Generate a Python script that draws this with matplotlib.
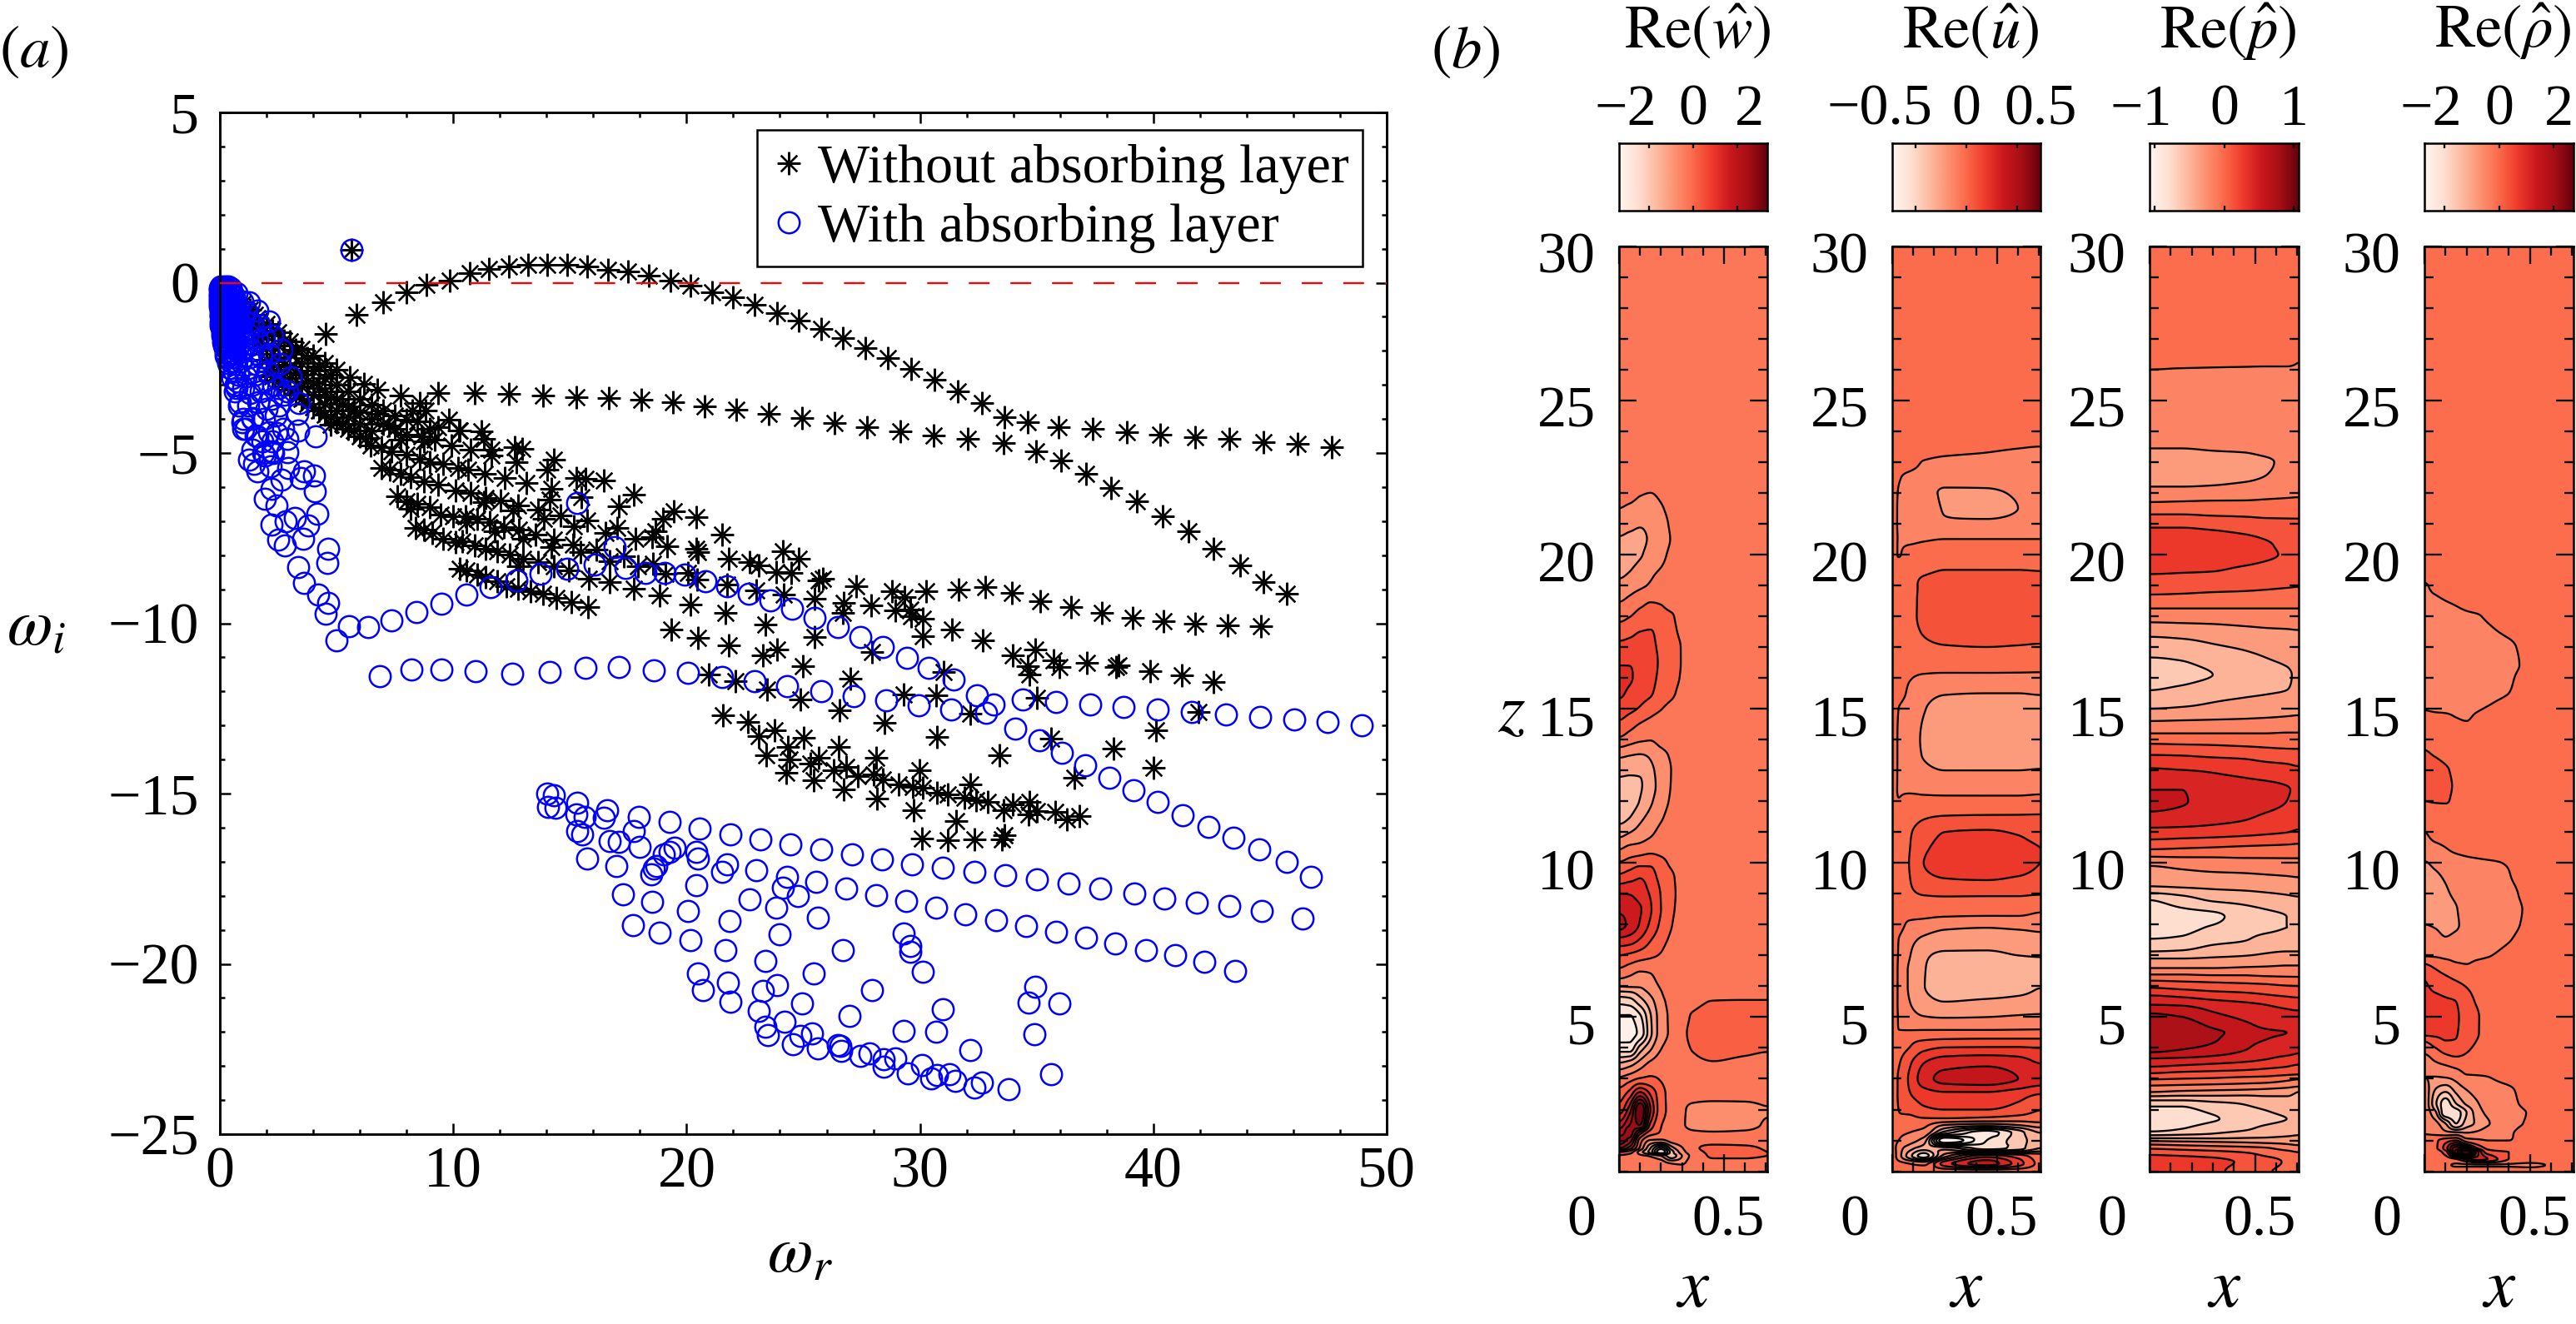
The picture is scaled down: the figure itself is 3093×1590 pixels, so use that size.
import numpy as np
import matplotlib
matplotlib.use('Agg')
import matplotlib.pyplot as plt
from matplotlib.transforms import ScaledTranslation
from matplotlib.ticker import MultipleLocator

plt.rcParams['font.family'] = ['Liberation Serif']
plt.rcParams['mathtext.fontset'] = 'stix'
FS = 16.8
W, H = 3093, 1590
DPI = 300

# ---------- panel (a): eigenvalues, without absorbing layer ----------
star_arc = [(4.54,-1.51),(5.85,-.94),(6.98,-.58),(7.98,-.29),(8.84,-.05),(9.84,.07),(10.7,.27),(11.53,.40),(12.37,.47),(13.21,.52),(14.04,.52),(14.9,.52),(15.75,.47),(16.63,.39),(17.5,.32),(18.38,.2),(19.29,.07),(20.18,-.09),(21.09,-.28),(22,-.44),(22.93,-.66),(23.87,-.89),(24.8,-1.11),(25.75,-1.36),(26.7,-1.63),(27.65,-1.93),(28.61,-2.21),(29.62,-2.53),(30.62,-2.85),(31.63,-3.19),(32.67,-3.54),(33.61,-3.96),(34.61,-4.10),(35.93,-4.23),(37.4,-4.3),(38.87,-4.38),(40.31,-4.45),(41.78,-4.53),(43.24,-4.59),(44.72,-4.67),(46.17,-4.74),(47.64,-4.82)]
star_flat = [(9.36,-3.24),(10.92,-3.25),(12.39,-3.27),(13.83,-3.32),(15.26,-3.35),(16.65,-3.39),(18.05,-3.44),(19.42,-3.52),(20.78,-3.62),(22.13,-3.74),(23.53,-3.86),(24.94,-3.98),(26.33,-4.13),(27.72,-4.25),(29.16,-4.37),(30.6,-4.49),(32.06,-4.59),(33.57,-4.70),(34.96,-4.94),(36.03,-5.23),(37.12,-5.62),(38.19,-6.03),(39.3,-6.43),(40.39,-6.87),(41.49,-7.31),(42.58,-7.82),(43.71,-8.30),(44.71,-8.79),(45.71,-9.14)]
star_right = [(39.12,-9.83),(40.45,-9.94),(41.8,-10.0),(43.2,-10.05),(44.62,-10.08),(38.51,-11.24),(39.87,-11.4),(41.23,-11.54),(42.58,-11.73),(41.93,-12.6),(40.11,-13.14),(40.02,-14.23)]
star_lower = [(19.11,-8.55),(20.07,-8.53),(20.45,-8.71),(21.75,-8.86),(22.97,-9.04),(23.85,-8.49),(24.49,-8.51),(24.17,-9.16),(25.48,-9.29),(25.67,-8.75),(25.84,-8.69),(27.27,-8.91),(26.72,-9.39),(26.69,-9.69),(27.9,-9.47),(28.79,-9.06),(29.33,-9.22),(28.96,-9.61),(29.59,-9.59),(29.62,-9.78),(30.13,-9.87),(30.28,-9.06),(31.64,-9.02),(32.81,-8.94),(33.93,-9.10),(35.14,-9.34),(36.48,-9.53),(37.79,-9.69),
(30.13,-10.37),(31.38,-10.19),(32.68,-10.51),(33.99,-10.93),(34.93,-10.77),(34.62,-11.26),(34.68,-11.5),(35.74,-11.08),(35.97,-11.28),(37.14,-11.16),(38.4,-11.28),
(18.86,-9.18),(20.17,-9.44),(21.67,-9.69),(19.34,-10.19),(20.49,-10.42),(21.79,-10.64),(23.38,-10.03),(25.48,-10.4),(27.94,-10.85),(31.0,-11.42),(23.27,-10.93),(23.89,-10.76),(24.97,-11.26),(27.0,-11.63),(20.96,-11.5),(22.1,-11.7),(23.44,-11.95),(24.87,-12.24),(26.54,-12.56),(28.48,-12.91),(29.31,-12.09),(30.71,-12.12),(32.17,-12.66),(35.0,-12.2),
(21.57,-12.69),(22.61,-12.89),(23.1,-13.31),(23.76,-13.13),(25.03,-13.36),(24.34,-13.63),(23.42,-13.87),(24.42,-13.99),(24.27,-14.4),(25.67,-13.95),(25.29,-14.13),(26.5,-13.62),(25.44,-14.62),(26.31,-14.32),(26.84,-14.21),(27.33,-14.48),(28.13,-13.95),(28.03,-14.44),(28.41,-14.59),(26.72,-14.87),(28.16,-15.15),(29.09,-14.72),(29.69,-14.81),(29.98,-14.32),(30.13,-14.84),(30.74,-14.97),(31.2,-15.03),(32.15,-14.72),(31.89,-15.12),(32.4,-15.19),(32.91,-15.24),(33.6,-15.48),(33.98,-15.32),(34.68,-15.25),(34.66,-15.6),(35.0,-15.52),(35.78,-15.54),(36.29,-15.77),(36.82,-15.66),(29.73,-15.48),(31.56,-15.81),(30.1,-16.33),(31.18,-16.38),(32.33,-16.35),(33.51,-16.34),(33.61,-16.22),(33.42,-13.88),(30.74,-13.34),(35.61,-13.39),(36.61,-14.54),(38.29,-13.68)]
star_mid = [(10.26,-4.33),(11.21,-4.36),(11.33,-4.58),(10.74,-4.9),(11.63,-4.9),(11.63,-5.07),(12.62,-4.82),(12.94,-4.88),(12.71,-5.27),(14.31,-5.19),(14.03,-5.49),(10.62,-5.49),(11.36,-5.6),(12.19,-5.74),(13.12,-5.88),(14.22,-6.06),(15.26,-5.74),(15.65,-5.77),(16.45,-5.8),(17.73,-6.23),(17.08,-6.56),(15.49,-6.29),(14.13,-6.37),(10.76,-6.17),(11.39,-6.33),(12.04,-6.39),(11.30,-6.45),(12.79,-6.53),(12.58,-6.69),(13.65,-6.67),(13.89,-6.92),(14.6,-6.83),(15.73,-6.98),(15.17,-7.14),(10.54,-6.86),(11.04,-6.94),(10.56,-7.02),(11.57,-7.02),(12.17,-7.17),(11.78,-7.31),(12.82,-7.25),(13.0,-7.51),(13.51,-7.39),(14.31,-7.55),(14.22,-7.76),(15.14,-7.69),(16.51,-7.35),(17.01,-7.2),(17.82,-7.53),(18.53,-7.47),(18.65,-7.31),(19.0,-6.92),(19.45,-6.71),(20.4,-6.88),(21.52,-7.39),(19.16,-7.74),(20.4,-7.82),(20.49,-7.92),(21.8,-8.1),(22.71,-8.2),(23.1,-8.3),(24.14,-7.88),(24.81,-8.1),
(10.38,-7.59),(10.92,-7.71),(11.4,-7.81),(11.87,-7.89),(12.43,-7.98),(13.0,-8.11),(13.63,-8.2),(14.31,-8.32),(15.44,-7.92),(16.13,-7.84),(16.69,-8.18),(17.31,-8.04),(17.93,-8.32),(18.56,-8.24),
(10.28,-8.39),(10.56,-8.45),(11.04,-8.57),(11.4,-8.65),(11.87,-8.77),(12.29,-8.9),(12.76,-8.98),(13.3,-9.06),(13.83,-9.14),(14.43,-9.26),(15.06,-9.38),(15.79,-9.53),(12.76,-8.33),(14.96,-8.45),(15.82,-8.68),(16.72,-8.8),(17.72,-8.99)]
star_fan = [(1,-.6),(1.3,-.8),(1.6,-1.05),(1.1,-1),(1.4,-1.25),(1.7,-1.5),(1.2,-1.35),(1.5,-1.65),(1.8,-1.9),
(1.5,-.95),(2,-1.2),(2.5,-1.45),(3,-1.72),(3.5,-1.95),(4,-2.15),(4.5,-2.35),(5,-2.55),(5.55,-2.77),(6.18,-2.98),(6.76,-3.15),(7.73,-3.31),(8.55,-3.53),(8.82,-3.75),(9.82,-4.02),(10.28,-4.35),
(2,-1.55),(2.5,-1.85),(3,-2.1),(3.5,-2.35),(4,-2.58),(4.5,-2.8),(5,-3.0),(5.5,-3.2),(6,-3.4),(6.5,-3.58),(7,-3.75),(7.5,-3.9),(8,-4.02),(8.46,-4.08),(9,-4.3),(9.36,-4.24),
(2,-1.9),(2.5,-2.2),(3,-2.45),(3.5,-2.7),(4,-2.95),(4.5,-3.2),(5,-3.42),(5.5,-3.62),(6,-3.8),(6.5,-4.0),(7,-4.15),(7.5,-4.3),(8,-4.45),(8.64,-4.51),(9.19,-4.62),(9.91,-4.79),
(2,-2.25),(2.5,-2.55),(3,-2.8),(3.5,-3.05),(4,-3.3),(4.5,-3.55),(5,-3.75),(5.5,-3.95),(6,-4.15),(6.5,-4.35),
(2,-2.6),(2.5,-2.9),(3,-3.15),(3.5,-3.4),(4,-3.65),(4.73,-4.17),(4.5,-3.88),(5,-4.1),(5.5,-4.3),(6,-4.5),
(6.45,-4.79),(6.91,-4.84),(7.36,-4.95),(8.0,-5.06),(8.55,-5.17),(9.0,-5.26),(9.55,-5.33),(10.19,-5.44),
(6.91,-5.44),(7.28,-5.5),(7.73,-5.6),(8.18,-5.71),(8.73,-5.82),(9.36,-5.93),(10.1,-6.1),
(7.6,-6.26),(8.0,-6.42),(8.18,-6.64),(8.45,-6.48),(9.0,-6.59),(9.46,-6.8),(10.0,-6.86),
(8.37,-7.19),(8.73,-7.24),(9.09,-7.35),(9.55,-7.52),(10.1,-7.62),
(2.25,-1.4),(2.75,-1.7),(3.25,-1.98),(3.75,-2.22),(4.25,-2.45),(4.75,-2.7),(2.25,-2.1),(2.75,-2.4),(3.25,-2.65),(3.75,-2.9),(4.25,-3.1),(4.75,-3.35),(5.25,-3.55),(5.75,-3.75),(2.25,-2.75),(2.75,-3.05),(3.25,-3.3),(3.75,-3.55),(4.25,-3.75),(4.75,-3.95),(5.25,-4.15),(5.75,-4.35),(6.25,-4.55),(7.25,-4.2),(7.75,-4.6),(6.75,-3.85),(8.25,-3.75),(8.75,-4.65)]
unstable_mode = [(5.64,.955)]

# ---------- panel (a): eigenvalues, with absorbing layer ----------
ring_arc = [(5.0,-10.49),(5.54,-10.08),(6.36,-10.1),(7.36,-9.92),(8.44,-9.68),(9.51,-9.43),(10.55,-9.16),(11.6,-8.93),(12.7,-8.74),(13.75,-8.54),(14.9,-8.39),(16.05,-8.28),(16.9,-7.76),(15.32,-6.46),(17.37,-8.37),(18.23,-8.52),(19.07,-8.53),(19.92,-8.57),(20.8,-8.77),(21.74,-8.91),(22.67,-9.12),(23.6,-9.32),(24.51,-9.57),(25.49,-9.83),(26.48,-10.1),(27.44,-10.4),(28.41,-10.69),(29.43,-11.02),(30.37,-11.32),(31.43,-11.64),(32.43,-12.11),(33.14,-12.38),(32.85,-12.63),(34.1,-13.09),(35.12,-13.44),(36.07,-13.79),(37.07,-14.18),(38.11,-14.54),(39.16,-14.91),(40.2,-15.25),(41.27,-15.63),(42.35,-15.97),(43.43,-16.3),(44.55,-16.65),(45.7,-17.0),(46.75,-17.45)]
ring_flat = [(6.84,-11.55),(8.2,-11.35),(9.5,-11.35),(10.94,-11.4),(12.52,-11.48),(14.13,-11.42),(15.65,-11.3),(17.08,-11.28),(18.59,-11.38),(20.07,-11.46),(21.53,-11.57),(22.92,-11.69),(24.32,-11.85),(25.76,-12.0),(27.15,-12.13),(28.55,-12.26),(29.95,-12.4),(31.34,-12.52),(34.39,-12.24),(35.83,-12.3),(37.3,-12.38),(38.73,-12.46),(40.2,-12.52),(41.66,-12.61),(43.11,-12.67),(44.57,-12.75),(46.05,-12.82),(47.46,-12.89),(48.94,-13.0)]
ring_row1 = [(14.03,-15.0),(14.31,-15.05),(14.05,-15.38),(14.4,-15.42),(15.32,-15.28),(16.61,-15.48),(15.26,-15.62),(15.62,-15.69),(16.44,-15.7),(15.32,-16.09),(15.52,-16.19),(16.69,-16.39),(17.1,-16.43),(17.94,-15.68),(17.73,-16.11),(17.98,-16.56),(19.27,-15.84),(20.56,-16.03),(21.87,-16.19),(23.16,-16.34),(24.45,-16.49),(25.78,-16.64),(27.07,-16.79),(28.36,-16.93),(29.65,-17.07),(30.99,-17.17),(32.32,-17.29),(33.65,-17.4),(35.0,-17.51),(36.37,-17.64),(37.74,-17.78),(39.2,-17.93),(40.47,-18.07),(41.85,-18.2),(43.25,-18.3),(44.65,-18.45),(46.4,-18.67)]
ring_row2 = [(15.73,-16.9),(17.0,-17.13),(17.26,-17.96),(18.53,-18.17),(20.05,-18.45),(17.71,-18.86),(18.86,-19.08),(20.17,-19.31),(21.67,-19.6),(23.39,-19.92),(21.85,-18.74),(22.71,-18.1),(23.84,-18.35),(24.12,-17.76),(24.78,-18.0),(25.64,-18.64),(24.0,-19.14),(25.54,-17.6),(26.83,-17.79),(28.12,-17.98),(29.41,-18.15),(30.7,-18.35),(31.95,-18.55),(33.25,-18.72),(34.54,-18.89),(35.82,-19.06),(37.11,-19.23),(38.36,-19.39),(39.67,-19.59),(40.95,-19.75),(42.2,-19.95),(43.5,-20.2),
(19.02,-16.79),(19.27,-16.7),(19.47,-16.6),(18.6,-17.21),(18.49,-17.37),(18.7,-17.13),(20.4,-16.7),(20.48,-16.9),(21.53,-17.29),(21.73,-17.07),(20.4,-17.68),(22.99,-17.25),(24.29,-17.44)]
ring_bottom = [(26.68,-19.6),(29.31,-19.11),(29.59,-19.47),(29.59,-19.65),(30.12,-20.24),(25.46,-20.29),(27.94,-20.76),(23.88,-20.63),(23.28,-20.8),(24.96,-21.15),(26.97,-21.53),(30.99,-21.33),(34.94,-20.67),(34.65,-21.14),(35.96,-21.15),(34.9,-22.06),(20.48,-20.28),(20.71,-20.78),(21.77,-20.54),(21.89,-21.12),(23.1,-21.39),(24.19,-21.69),(23.39,-21.85),(23.47,-22.1),(24.86,-22.12),(25.36,-22.04),(24.57,-22.36),(25.64,-22.48),(26.48,-22.38),(26.6,-22.4),(26.64,-22.56),(27.46,-22.71),(27.83,-22.63),(28.45,-22.79),(28.45,-23.03),(28.96,-22.77),(29.31,-21.96),(30.7,-22.0),(32.17,-22.52),(30.08,-22.97),(29.49,-23.22),(30.49,-23.36),(30.74,-23.26),(31.27,-23.24),(31.5,-23.43),(32.32,-23.63),(32.64,-23.48),(33.81,-23.68),(35.6,-23.24)]
ring_cluster = [(1.25,-.58),(1.62,-.83),(2.09,-1.13),(2.26,-1.56),(2.65,-1.97),(2.57,-2.38),(3.03,-2.78),(2.89,-3.19),(3.4,-3.53),(3.33,-3.84),(3.37,-4.33),(4.1,-4.52),(2.89,-4.58),(2.89,-4.98),(2.24,-4.66),(2.26,-4.94),(1.25,-5.19),(1.46,-5.31),(1.62,-5.54),(2.18,-5.39),(2.91,-5.43),(3.6,-5.55),(4.04,-5.65),(3.45,-5.74),(2.63,-5.78),(4.08,-6.12),(1.94,-6.35),(2.41,-6.53),(2.21,-6.06),(3.22,-6.9),(4.17,-6.78),(2.83,-7.0),(3.78,-7.13),(2.21,-7.1),(3.58,-7.53),(2.5,-7.55),(2.79,-7.71),(4.65,-7.8),(4.6,-8.23),(3.37,-8.34),(3.6,-8.81),(4.22,-9.16),(4.65,-9.39),(4.54,-9.71),
(.99,-4.29),(.95,-4.09),(.81,-3.6),(.63,-3.19),(.69,-2.99),(1.4,-3.97),(1.52,-4.49),(1.82,-4.66),(2.41,-4.41),(1.4,-4.9),(1.94,-5.07)]
ring_core = [(0,-.15),(0,-.4),(.01,-.7),(.03,-1),(.07,-1.3),(.13,-1.6),(.2,-1.9),(.3,-2.2),(.42,-2.5),(.55,-2.8),(.7,-3.1),(.85,-3.5),(.99,-4.0),(1.1,-4.3),
(.05,-.1),(.1,-.3),(.15,-.6),(.2,-.9),(.3,-1.2),(.4,-1.5),(.5,-1.9),(.65,-2.3),(.8,-2.7),(1,-3.1),(1.2,-3.6),(1.4,-4),(1.6,-4.5),(1.85,-5),
(.2,-.1),(.3,-.3),(.4,-.6),(.5,-.9),(.65,-1.2),(.8,-1.6),(1,-2),(1.2,-2.5),(1.4,-3),(1.65,-3.5),(1.9,-4),(2.1,-4.4),(2.3,-5),
(.4,-.2),(.6,-.4),(.8,-.7),(1,-1.1),(1.2,-1.5),(1.4,-2),(1.6,-2.4),(1.9,-2.9),(2.2,-3.4),(2.4,-3.9),(2.7,-4.3),
(.02,-.25),(.06,-.55),(.1,-.8),(.12,-1.1),(.18,-1.4),(.26,-1.7),(.34,-2),(.46,-2.3),(.6,-2.6),(.75,-2.9),(.25,-.45),(.35,-.75),(.45,-1.05),(.55,-1.35),(.65,-1.65),(.75,-1.95),(.9,-2.3),(1.1,-2.75),(1.3,-3.25),(.5,-.5),(.7,-.85),(.9,-1.3),(1.1,-1.8),(1.3,-2.2),(1.5,-2.7),(1.75,-3.2),(2,-3.7),(.7,-.3),(.95,-.55),(1.15,-.85),(1.4,-1.2),(1.6,-1.7),(1.8,-2.2),(2.05,-2.6),(2.3,-3),(2.55,-3.6),(2.75,-3.3),(2.5,-3.1),(2.1,-2.1),(1.9,-1.6),(1.7,-1.25)]
ring_solid = [(.01,-.2),(.01,-.32),(.01,-.5),(.01,-.6),(.02,-.85),(.02,-.95),(.04,-1.15),(.05,-1.25),(.1,-1.45),(.1,-1.55),(.16,-1.75),(.17,-1.85),(.25,-2.05),(.25,-2.15),(.36,-2.35),
(.08,-.16),(.08,-.25),(.08,-.42),(.08,-.6),(.1,-.72),(.12,-.9),(.14,-1.02),(.16,-1.2),(.2,-1.3),(.24,-1.5),(.28,-1.6),(.33,-1.8),(.38,-1.9),(.43,-2.1),(.5,-2.2),
(.15,-.16),(.16,-.3),(.18,-.45),(.2,-.6),(.22,-.75),(.26,-.9),(.28,-1.05),(.34,-1.15),(.38,-1.3),(.44,-1.45),(.48,-1.65),(.55,-1.75),(.6,-1.95),(.68,-2.1),
(.25,-.2),(.28,-.35),(.3,-.5),(.34,-.65),(.38,-.85),(.42,-.95),(.46,-1.15),(.52,-1.25),(.58,-1.5),(.62,-1.55),(.7,-1.75),(.78,-1.85),(.85,-2.05),
(.34,-.12),(.38,-.28),(.42,-.42),(.46,-.55),(.5,-.72),(.56,-.82),(.6,-1.02),(.68,-1.1),(.72,-1.3),(.8,-1.42),(.88,-1.55),(.95,-1.72),
(.48,-.15),(.52,-.3),(.58,-.5),(.62,-.62),(.68,-.72),(.75,-.95),(.8,-1.1),(.88,-1.2)]

# ---------- panel (b): fields on read-off grids, in units of one contour step ----------
w_x = [0,.05,.1,.15,.2,.25,.3,.35,.45,.6,.707]
w_table = [
[30,0],[23,0],[22.5,0],
[22,0,-.1,-.4,-.5,-.3,-.1,0],[21.5,-.5,-.7,-.9,-.9,-.6,-.2,0],[21,-1,-1.2,-1.4,-1.2,-.85,-.35,0],[20.5,-1.6,-1.7,-1.7,-1.35,-.9,-.45,-.1,0],[20,-2,-1.85,-1.6,-1.15,-.75,-.3,0],[19.5,-1.75,-1.55,-1.15,-.7,-.45,-.15,0],[19,-1.25,-1,-.7,-.4,-.15,0],
[18.5,-.55,-.25,.2,.45,.4,.1,0],[18,.2,.45,.8,.85,.75,.6,.1,0],[17.5,1,1.2,1.5,1.55,1.1,.75,.3,0],[17,1.8,1.9,1.9,1.7,1.3,.85,.45,0],[16.5,2.4,2.45,2.3,1.85,1.35,.9,.45,0],[16,2.8,2.6,2.2,1.75,1.3,.85,.4,0],[15.5,2.65,2.3,1.9,1.6,1.1,.7,.2,0],[15,2,1.75,1.4,.95,.55,.2,0],[14.5,1.3,.9,.45,.15,0],
[14,.3,-.05,-.35,-.45,-.15,0],[13.5,-1.3,-1.45,-1.55,-1.35,-.85,-.35,0],[13,-2.2,-2.3,-2.35,-1.7,-1.15,-.48,0],[12.5,-2.8,-2.8,-2.6,-1.85,-1.15,-.45,0],[12,-3,-2.95,-2.45,-1.65,-1,-.35,0],[11.5,-2.85,-2.55,-1.8,-1.2,-.65,-.15,0],[11,-1.9,-1.55,-1.1,-.7,-.25,0],[10.5,-.65,-.3,-.2,0],
[10,.6,.9,1.2,1.3,.85,.3,0],[9.5,1.9,2.2,2.5,2,1.2,.7,.1,0],[9,3.5,3.45,3,2.4,1.45,.75,.2,0],[8.5,4.3,4.1,3.6,2.6,1.5,.7,.15,0],[8,4.8,4.25,3.4,2.3,1.3,.55,0],[7.5,3.2,3,2.4,1.55,.9,.3,0],[7,1.5,1.3,1,.7,.4,0],[6.5,.25,-.1,-.45,-.4,-.1,0],
[6,-1.45,-1.4,-1.4,-.9,-.4,0],[5.75,-3,-2.9,-2.2,-1.4,-.6,-.05,0,0,0,0,0],
[5.5,-4.2,-4,-3,-1.9,-.8,-.2,0,.2,.55,.6,.6],[5,-5.6,-5.6,-4.7,-2.6,-1,-.3,.05,.6,.8,.8,.8],[4.5,-6,-5.9,-5.2,-2.75,-1,-.3,.25,.7,.9,.9,.85],[4,-5,-5.05,-3.1,-1.7,-.55,-.1,.2,.55,.75,.7,.6],[3.5,-2.4,-2,-1.1,-.3,0,0,0,.3,.45,.3,.2],
[3,-.3,.1,.6,.7,.4,0,0,0,0,0,0],[2.5,1,2,4,2.4,.9,.15,-.1,-.1,-.1,-.1,-.1],[2,2,4,7.5,3.5,.9,.2,-.3,-.75,-1,-.9,-.55],[1.5,4,5.5,6.5,2.2,.55,.1,-.35,-.8,-1.05,-.9,-.4],[1.25,5,6,3,1,.4,0,-.1,-.3,-.4,-.3,-.1],[1,6,5,1,-.6,-.7,-.2,0,.2,.1,.1,.1],
[.75,4.5,3,.3,-2.5,-5,-2,-.6,.3,.7,.65,.45],[.625,1.5,1,-1,-3,-6.5,-3,-1,.1,.65,.7,.5],[.5,.4,.2,-.3,-.6,-1.5,-3,-1.5,-.2,.6,.65,.5],[.25,0,0,0,0,-.1,-.5,-.6,.1,.2,.1,0],[0,0]]
u_x = [0,.03,.08,.15,.25,.45,.6,.707]
u_table = [
[30,0],[24,0],[23.5,0,0,0,0,-.2,-.35,-.45,-.5],[23,0,0,-.1,-.55,-.7,-.75,-.8,-.8],[22.5,0,-.4,-.7,-.85,-1.1,-1.2,-1.15,-1.1],[22,0,-.55,-.8,-1.1,-1.6,-1.6,-1.4,-1.2],[21.5,0,-.6,-.85,-1.1,-1.55,-1.8,-1.5,-1.2],[21,0,-.6,-.8,-1,-1.4,-1.3,-1.2,-1.1],[20.5,0,-.55,-.65,-.6,-.5,-.5,-.5,-.5],[20,0,-.55,-.15,.1,.2,.2,.2,.2],[19.5,0,.05,.3,.4,.5,.5,.5,.48],[19,0,.1,.3,.6,.7,.8,.8,.75],[18.5,0,.1,.35,.6,.8,.9,.9,.9],[18,0,.1,.3,.65,.85,.95,1,1],[17.5,0,.1,.3,.55,.8,.9,.9,.85],[17,0,.1,.3,.35,.45,.5,.45,.4],[16.5,0,.05,.1,.1,.1,.1,.05,0],[16,0,0,-.4,-.7,-.8,-.8,-.8,-.8],[15.5,0,-.05,-.7,-1.2,-1.45,-1.5,-1.5,-1.45],[15,0,-.5,-1,-1.45,-1.8,-1.9,-1.9,-1.8],[14,0,-.6,-1.1,-1.6,-2,-2.2,-2.2,-2.1],[13.5,0,-.6,-1.1,-1.55,-1.9,-2,-2,-1.9],[13,0,-.6,-1,-1.3,-1.5,-1.5,-1.5,-1.45],[12.5,0,-.6,-.85,-.9,-.9,-.9,-.9,-.85],[12,0,-.45,-.1,-.2,-.25,-.25,-.25,-.2],[11.5,0,.1,.2,.4,.55,.6,.6,.6],[11,0,.1,.4,.9,1.5,1.6,1.4,1.1],[10.5,0,.1,.45,1.3,1.8,2,1.8,1.5],[10,0,.1,.5,1.5,2,2.2,2,1.5],[9.5,0,.1,.45,1.2,1.5,1.6,1.4,1.2],[9,0,.1,.35,.55,.6,.6,.6,.55],[8.5,0,.05,.1,.1,.1,.05,0,-.3],[8,0,-.1,-.7,-.9,-1.2,-1.3,-1.2,-1.2],[7.5,0,-.5,-1.15,-1.7,-2,-2.1,-2,-1.8],[7,0,-.55,-1.4,-2.3,-2.7,-2.7,-2.5,-2.45],[6.5,0,-.6,-1.6,-2.4,-3.4,-3.5,-3,-2.8],[6,0,-.6,-1.6,-2.45,-3.2,-3.4,-3,-2.55],[5.5,0,-.6,-1.45,-2.1,-2.5,-2.3,-2.1,-2],[5,0,-.55,-1.1,-1.45,-1.55,-1.5,-1.4,-1.35],[4.6,0,-.5,-.55,-.55,-.55,-.55,-.52,-.5],[4.3,0,-.1,.2,.35,.45,.5,.5,.5],[4,0,.1,.5,1.2,1.55,1.6,1.6,1.5],[3.5,0,.4,1.3,2.5,3.1,3.3,3,2.5],[3,0,.6,1.6,3,3.8,4,3.5,3],[2.5,0,.6,1.4,2,2.3,2.3,1.9,1.5],[2,0,.5,.7,1.3,1.5,1.5,1.1,.55],[1.7,0,.45,.3,.4,.4,.2,0,0],[1.5,0,.2,-.2,-.3,-1.5,-2,-1.5,-1],[1.25,0,-.3,-.5,-.8,-4,-6,-4,-2.5],[1,0,-.5,-1,-2,-8.5,-5.5,-4,-3],[.75,0,-1,-2,-3,-3,-5,-4,-2.5],[.5,0,-1,-3,-5,-1,2,1,0],[.25,0,-.2,-.5,-.8,2,4,2,.3],[0,0]]
p_x = [0,.15,.3,.45,.55,.65,.707]
p_table = [
[30,0],[26.3,0,0,0,0,0,0,-.45],[26,-.5,-.55,-.6,-.65,-.7,-.7,-.7],[25,-1],[24,-1.2,-1.2,-1.2,-1.15,-1.1,-1.05,-1],[23.44,-1.5,-1.5,-1.45,-1.4,-1.25,-1.1,-1.05],[23,-1.8,-1.8,-1.75,-1.7,-1.6,-1.3,-1.1],[22.6,-1.85,-1.85,-1.8,-1.7,-1.52,-1.25,-1.05],[22.2,-1.5,-1.5,-1.45,-1.3,-1.15,-1,-.85],[21.7,-.5,-.45,-.4,-.4,-.35,-.3,-.3],[21.3,.5,.5,.4,.35,.3,.3,.3],[20.87,1.5,1.5,1.4,1.2,1,.9,.85],[20.3,1.9,1.9,1.9,1.8,1.6,1.3,1.1],[20,1.95,1.95,1.9,1.8,1.62,1.4,1.15],[19.5,1.65,1.6,1.55,1.35,1.2,1.05,.95],[19,.95,.95,.9,.8,.7,.6,.55],[18.7,.5,.45,.35,.3,.25,.2,.2],[18.25,-.5],[17.8,-1.5,-1.45,-1.4,-1.3,-1.25,-1.2,-1.15],[17.33,-2.5,-2.4,-2.2,-2,-1.85,-1.8,-1.75],[16.66,-3.5,-3.4,-3,-2.7,-2.5,-2.3,-2.15],[16.1,-3.9,-3.8,-3.5,-3,-2.8,-2.6,-2.4],[15.6,-3.5,-3.3,-2.9,-2.7,-2.6,-2.5,-2.4],[15,-2.5,-2.4,-2.25,-2.1,-2,-1.85,-1.8],[14.6,-1.5,-1.45,-1.4,-1.35,-1.3,-1.25,-1.2],[14.2,-.5,-.5,-.5,-.5,-.5,-.45,-.45],[13.86,.5,.45,.4,.3,.25,.2,.2],[13.5,1.5,1.45,1.3,1.2,1,.9,.85],[13.07,2.5,2.4,2.3,2.1,1.9,1.75,1.6],[12.37,3.5,3.5,3,2.8,2.7,2.55,2.4],[12,3.9,3.6,3.1,2.85,2.7,2.5,2.3],[11.5,3.2,3.05,2.8,2.6,2.4,2.2,2.1],[11.14,2.5,2.45,2.35,2.2,2,1.8,1.6],[10.76,1.5,1.4,1.3,1.15,1.05,.95,.85],[10.44,.5,.4,.3,.2,.15,.1,.05],[10.2,-.5,-.45,-.45,-.4,-.4,-.4,-.4],[9.9,-1.5,-1.3,-1.15,-1.1,-1.05,-1,-1],[9.24,-2.5,-2.4,-2.3,-2.2,-2.1,-2,-1.9],[8.79,-4.5,-4,-3.4,-3.2,-3,-2.8,-2.7],[8.26,-5,-4.8,-4.7,-4,-3.7,-3.5,-3.4],[7.9,-4.8,-4.7,-4.4,-3.9,-3.7,-3.5,-3.5],[7.54,-4.5,-4.4,-3.9,-3.6,-3.2,-3,-2.9],[7.13,-3.5,-3.4,-3,-2.8,-2.6,-2.5,-2.5],[6.9,-2.5,-2.5,-2.4,-2.3,-2.2,-2,-2],[6.59,-1.5,-1.5,-1.5,-1.4,-1.35,-1.3,-1.3],[6.38,-.5,-.5,-.6,-.6,-.7,-.7,-.7],[6.18,.5,.4,.3,.2,.1,-.1,-.15],[5.95,1.5,1.3,1.1,1,.9,.75,.7],[5.7,2.5,2.3,2,1.8,1.6,1.4,1.3],[5.4,3.5,3.4,3,2.7,2.5,2.3,2.2],[5.12,4.5,4.3,3.6,3.1,2.8,2.65,2.6],[4.7,5,4.9,4.4,3.8,3.3,2.95,2.85],[4.5,5.1,5,4.65,4.2,3.75,3.5,3.1],[4.3,5,4.9,4.6,4,3.55,3.2,2.95],[4.07,4.9,4.7,4.4,3.7,3.2,2.9,2.7],[3.86,4.5,4.3,3.9,3.4,3.1,2.8,2.55],[3.66,3.5,3.4,3.2,2.9,2.6,2.2,2.1],[3.39,2.5,2.3,2.1,1.9,1.7,1.5,1.3],[3.18,1.5,1.3,1.2,1.1,1,.8,.7],[2.98,.5,.4,.3,.1,0,-.3,-.5],[2.78,-.5,-.6,-.7,-.8,-.9,-1.1,-1.3],[2.57,-1.5,-1.7,-1.8,-1.9,-2,-2.2,-2.5],[2.3,-3.5,-3.5,-3.3,-3.2,-2.9,-2.7,-2.7],[2.1,-4.5,-4.5,-4,-3.6,-3.3,-2.9,-2.85],[1.7,-5,-5,-4.6,-4.1,-3.8,-3.5,-3.3],[1.41,-5,-4.6,-4,-3.7,-3.3,-3,-2.9],[1.17,-3.5,-3.4,-3.3,-3,-2.8,-2.6,-2.5],[.98,-1.5,-1.6,-1.7,-1.8,-1.9,-1.9,-2],[.73,.5,.3,.1,-.1,-.3,-.8,-1],[.53,1.5,1.4,1.2,.8,.4,.2,-.2],[.3,1.9,1.9,1.8,1.3,.8,.4,.1],[0,1.8,1.8,1.7,1,.6,.3,.1]]
r_x = [0,.05,.1,.15,.2,.25,.3,.4,.5,.707]
r_table = [
[30,0],[19.5,0],[19,-.55,-.3,-.05,0],[18.5,-.6,-.6,-.5,-.4,-.25,-.1,0],[18,-.7,-.7,-.7,-.65,-.6,-.55,-.4,-.1,0],[17,-.8,-.85,-.85,-.85,-.85,-.8,-.75,-.6,-.3,0],[16.4,-.9,-.9,-.95,-.95,-.95,-.9,-.8,-.65,-.35,0],[16,-.9,-.9,-.9,-.9,-.9,-.85,-.8,-.6,-.2,0],[15.5,-.85,-.8,-.8,-.8,-.8,-.75,-.7,-.5,-.1,0],[15,-.55,-.6,-.6,-.6,-.6,-.55,-.45,-.15,0],[14.6,-.1,-.2,-.3,-.45,-.5,-.35,-.15,0],[14,0],[13.66,.5,.3,.1,0],[13,.85,.8,.6,.3,0],[12.5,.9,.85,.65,.4,.1,0],[12,.5,.55,.55,.3,0],[11.5,0],[11,-.5,-.2,-.1,0],[10.5,-.8,-.7,-.5,-.3,-.2,-.1,0],[10,-1.55,-1.3,-.95,-.8,-.7,-.65,-.6,-.45,-.3,0],[9.5,-1.8,-1.7,-1.4,-1,-.9,-.85,-.8,-.55,-.1,0],[9,-2,-1.9,-1.65,-1.3,-1.1,-1,-.95,-.75,-.2,0],[8.5,-2,-1.9,-1.8,-1.55,-1.1,-1,-.95,-.8,-.35,0],[8,-1.5,-1.6,-1.75,-1.6,-1.2,-1,-.95,-.75,-.3,0],[7.5,-.9,-1.1,-1.4,-1.2,-1,-.9,-.85,-.55,-.1,0],[7,-.55,-.6,-.7,-.65,-.6,-.6,-.55,-.2,0],[6.72,.5,.2,-.2,-.45,-.5,-.4,-.3,0],[6.18,1.5,1.1,.8,.5,.25,.1,0],[5.5,1.7,1.7,1.6,1.5,.9,.4,.1,0],[5,1.9,1.85,1.75,1.6,1.1,.6,.15,0],[4.5,1.8,1.75,1.7,1.55,1.1,.6,.1,0],[4.2,.5,1,1.45,1.45,.9,.45,.1,0],[3.8,-.5,-.05,.5,.7,.45,.15,0],[3.46,-1,-.7,-.45,-.2,-.1,-.15,-.2,-.1,0],[3.07,-1.5,-1.5,-1.4,-1.1,-.6,-.55,-.5,-.25,0],[2.64,-1,-2.5,-3.2,-2.2,-1.5,-1.1,-.8,-.6,-.2,0],[2.2,-.9,-3.2,-5,-3.5,-2.3,-1.6,-1,-.7,-.3,0],[1.9,-1,-2.2,-5.2,-5,-3.5,-2,-1.3,-.8,-.45,0],[1.55,-.9,-1.2,-2.5,-4.5,-3,-2.3,-1.6,-.8,-.4,0],[1.25,-.6,-.8,-1.2,-1.3,-1.5,-1.3,-.9,-.6,-.2,0],[1,0,.3,1,1.5,0,-.3,-.5,-.5,-.3,0],[.75,0,.3,2,5,4,1.5,.3,-.2,-.1,0],[.62,0,0,1,6,8.5,4,1,.5,0,0],[.4,0,0,.1,.5,2,3,2.5,.5,0,0],[.2,0,0,-.3,-.6,-.6,-.6,-.6,-.6,-.7,0],[0,0]]

panel_titles = [r'$\mathrm{Re}(\hat{w})$', r'$\mathrm{Re}(\hat{u})$', r'$\mathrm{Re}(\hat{p})$', r'$\mathrm{Re}(\hat{\rho})$']
panel_left = [1944, 2272, 2581, 2911]
panel_right = [2122, 2450, 2760, 3090]
color_limit = [3.33, .724, 1.07, 2.72]
color_offset = [-.27, -.01, -.02, -.05]
color_ticks = [[-2, 0, 2], [-.5, 0, .5], [-1, 0, 1], [-2, 0, 2]]
color_labels = [['\u22122', '0', '2'], ['\u22120.5', '0', '0.5'], ['\u22121', '0', '1'], ['\u22122', '0', '2']]
label_shift = [[-28, 0, 14], [-43, 0, 28], [-16, 0, 0], [-16, 0, 6]]
xgrids = [w_x, u_x, p_x, r_x]
tables = [w_table, u_table, p_table, r_table]

fig = plt.figure(figsize=(W / DPI, H / DPI), dpi=DPI)


def pxaxes(l, t, r, b):
    return fig.add_axes([l / W, 1 - b / H, (r - l) / W, (b - t) / H])


def ptext(px, py, s, **kw):
    fig.text(px / W, 1 - py / H, s, ha='center', va='center', fontsize=kw.pop('fontsize', FS), **kw)


def shifted(label, dx=0, dy=0):
    label.set_transform(label.get_transform() + ScaledTranslation(dx / DPI, dy / DPI, fig.dpi_scale_trans))


def xy(*groups):
    pts = [p for g in groups for p in g]
    return [p[0] for p in pts], [p[1] for p in pts]


def hermite(grid, vals, fine, axis):
    """Smooth the read-off table along one axis: monotone cubic through every table value."""
    vals = np.moveaxis(vals, axis, 0)
    shape = (-1,) + (1,) * (vals.ndim - 1)
    dg = np.diff(grid).reshape(shape)
    sec = np.diff(vals, axis=0) / dg
    slope = np.zeros_like(vals)
    a, b = sec[:-1], sec[1:]
    slope[1:-1] = np.where(a * b > 0, 2 * a * b / (a + b + np.where(a + b == 0, 1, 0)), 0)
    idx = np.clip(np.searchsorted(grid, fine) - 1, 0, len(grid) - 2)
    h = grid[idx + 1] - grid[idx]
    t = ((fine - grid[idx]) / h).reshape(shape)
    hh = h.reshape(shape)
    out = ((2 * t**3 - 3 * t**2 + 1) * vals[idx] + (t**3 - 2 * t**2 + t) * hh * slope[idx]
           + (-2 * t**3 + 3 * t**2) * vals[idx + 1] + (t**3 - t**2) * hh * slope[idx + 1])
    return np.moveaxis(out, 0, axis)


# ---- panel (a)
ax = pxaxes(264, 135, 1665, 1362)
sx, sy = xy(star_arc, star_flat, star_right, star_lower, star_mid, star_fan, unstable_mode)
rx, ry = xy(ring_arc, ring_flat, ring_row1, ring_row2, ring_bottom, ring_cluster, ring_core, ring_solid, unstable_mode)
ax.plot(sx, sy, ls='none', marker=(8, 2, 0), ms=6.6, mew=.55, color='k', label='Without absorbing layer', clip_on=False)
ax.plot(rx, ry, ls='none', marker='o', ms=6.1, mew=.6, mfc='none', mec='#0000ff', label='With absorbing layer', clip_on=False)
ax.plot([0, 50], [0, 0], color='#ff0000', lw=.55, dashes=(10.9, 10.9), zorder=5)
ax.set_xlim(0, 50)
ax.set_ylim(-25, 5)
ax.set_xticks(range(0, 51, 10))
ax.set_yticks(range(-25, 6, 5))
ax.xaxis.set_minor_locator(MultipleLocator(2))
ax.yaxis.set_minor_locator(MultipleLocator(1))
ax.tick_params(which='major', direction='in', length=3.1, width=.6, top=True, right=True, labelsize=FS)
ax.tick_params(axis='x', which='major', pad=3.6)
ax.tick_params(axis='y', which='major', pad=6)
ax.tick_params(which='minor', direction='in', length=1.5, width=.6, top=True, right=True)
for s in ax.spines.values():
    s.set_linewidth(.7)
leg = ax.legend(loc='upper left', bbox_to_anchor=((909 - 264) / 1401, 1 - (156 - 135) / 1227), borderaxespad=0, fontsize=15.8,
                frameon=True, fancybox=False, edgecolor='k', framealpha=1, handlelength=.66, handletextpad=.2,
                borderpad=.25, labelspacing=.17, numpoints=1)
leg.get_frame().set_linewidth(.6)
ptext(41, 63, r'$(a)$', fontsize=17.5)
ptext(1760, 63, r'$(b)$', fontsize=17.5)
ptext(43, 755, r'$\omega_i$', fontsize=19)
ptext(961, 1509, r'$\omega_r$', fontsize=19)
ptext(1815, 858, r'$z$', fontsize=20)

# ---- panel (b)
for i in range(4):
    l, r = panel_left[i], panel_right[i]
    lim, off = color_limit[i], color_offset[i]
    step = 2 * lim / 14
    xs = np.array(xgrids[i], dtype=float)
    rows = sorted(tables[i], key=lambda a: a[0])
    zs = np.array([a[0] for a in rows], dtype=float)
    F = np.array([a[1:] + [a[-1]] * (len(xs) - len(a) + 1) for a in rows], dtype=float)
    xf = np.linspace(0, .707, 180)
    zf = np.concatenate([np.linspace(0, 8, 500, endpoint=False), np.linspace(8, 30, 500)])
    G = hermite(xs, hermite(zs, F, zf, 0), xf, 1)
    levels = off + step * (np.arange(-10, 11) + .5)
    a = pxaxes(l, 295.5, r, 1406.6)
    a.contourf(xf, zf, G * step + off, levels=levels, cmap='Reds', vmin=-lim, vmax=lim)
    a.contour(xf, zf, G * step + off, levels=levels, colors='k', linewidths=.55, linestyles='solid')
    a.set_xlim(0, .707)
    a.set_ylim(0, 30)
    a.set_xticks([0, .5])
    a.set_xticklabels(['0', '0.5'])
    a.set_yticks(range(5, 31, 5))
    a.xaxis.set_minor_locator(MultipleLocator(.1))
    a.yaxis.set_minor_locator(MultipleLocator(1))
    a.tick_params(which='major', direction='in', length=5, width=.55, top=True, right=True, labelsize=FS, pad=6.8)
    a.tick_params(which='minor', direction='in', length=2.6, width=.55, top=True, right=True)
    for s in a.spines.values():
        s.set_linewidth(.6)
    xl = a.get_xticklabels()
    shifted(xl[0], dx=-45)
    shifted(xl[1], dx=5)
    for lab in a.get_yticklabels():
        shifted(lab, dy=-8)
    ptext((l + r) / 2, 1549, r'$x$', fontsize=20)

    c = pxaxes(l, 172, r, 253)
    c.imshow(np.linspace(0, 1, 256)[None, :], cmap='Reds', aspect='auto', extent=[-lim, lim, 0, 1])
    c.set_yticks([])
    c.set_xticks(color_ticks[i])
    c.set_xticklabels(color_labels[i])
    c.tick_params(direction='in', length=1.5, width=.55, top=True, bottom=True, labeltop=True, labelbottom=False, labelsize=FS, pad=1.7)
    for s in c.spines.values():
        s.set_linewidth(.6)
    for tk, dx in zip(c.xaxis.get_major_ticks(), label_shift[i]):
        shifted(tk.label2, dx=dx)
    ptext((l + r) / 2 + 5, 38, panel_titles[i], fontsize=17.5)

fig.savefig('out.png', dpi=DPI)
